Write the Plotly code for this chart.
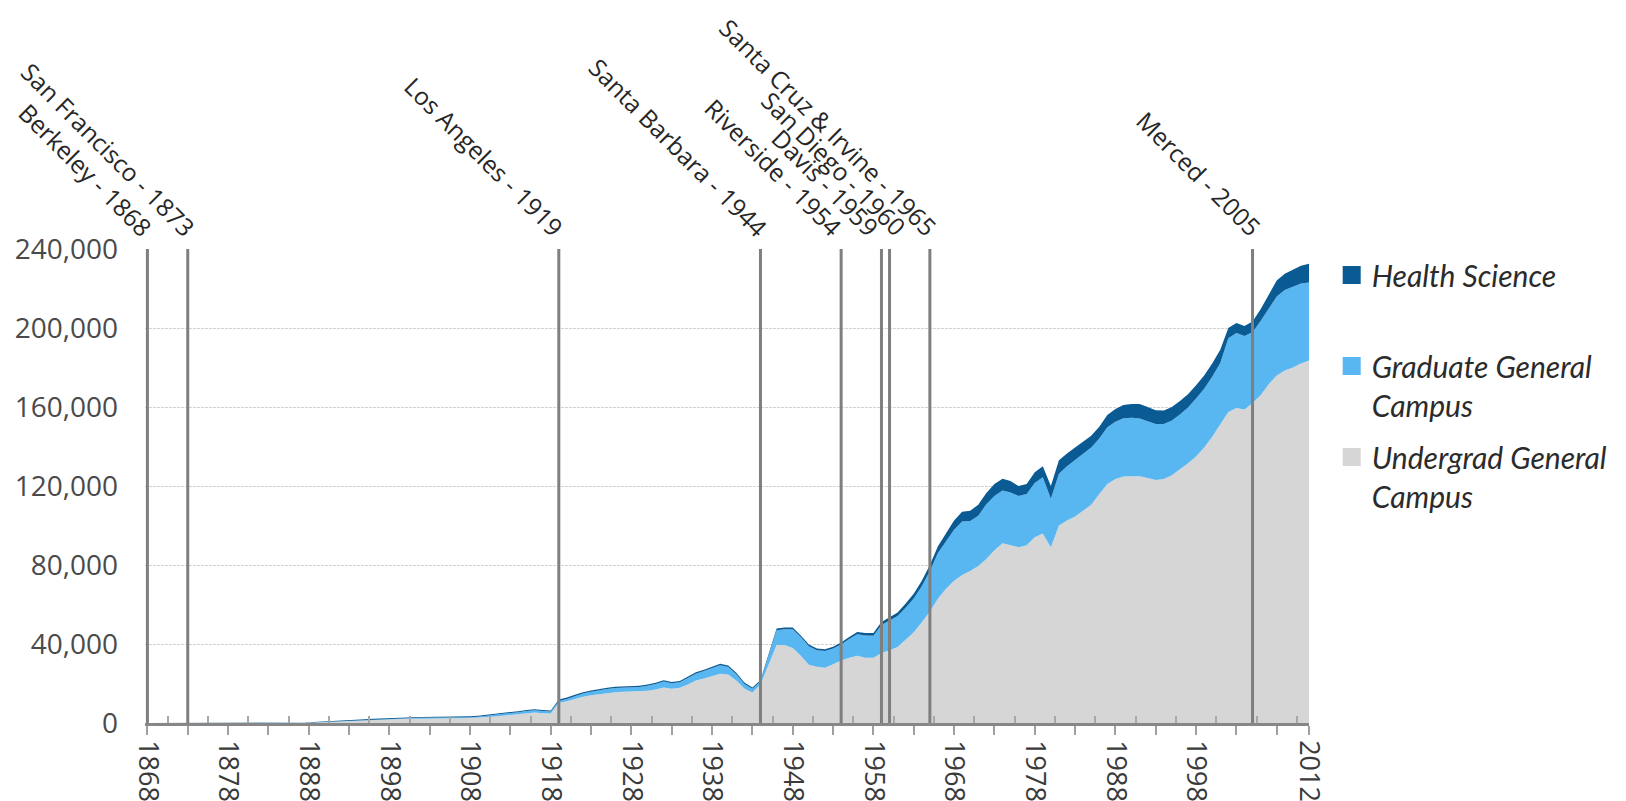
import plotly.graph_objects as go

# ---------------- data (enrollment, thousands of students) ----------------
years = list(range(1868, 2013))

undergrad_k = [
    0, 0, 0, 0, 0, 0, 0, 0, 0, 0, 0, 0, 0, 0, 0, 0, 0,            # 1868-1884
    0, 0.05, 0.1, 0.2, 0.3, 0.4, 0.6, 0.8, 1.0, 1.2,              # 1885-1894
    1.4, 1.6, 1.8, 1.9, 2.0, 2.1, 2.2, 2.3, 2.3, 2.4,             # 1895-1904
    2.4, 2.4, 2.4, 2.5, 2.7, 3.0, 3.3, 3.7, 4.1, 4.5,             # 1905-1914
    5.0, 5.3, 5.0, 4.8, 10.2, 11.0, 12.2, 13.3, 14.0, 14.6,       # 1915-1924
    15.2, 15.6, 15.8, 16.0, 16.0, 16.3, 17.0, 18.0, 17.3, 17.8,   # 1925-1934
    19.5, 21.5, 22.5, 23.8, 25.0, 24.5, 21.5, 17.5, 15.5, 19.5,   # 1935-1944
    30.0, 39.5, 39.5, 38.0, 34.0, 29.5, 28.5, 28.0, 29.8, 31.7,   # 1945-1954
    33.0, 34.0, 33.0, 33.0, 35.5, 36.8, 38.5, 42.0, 46.0, 51.0,   # 1955-1964
    56.5, 63.0, 68.0, 72.0, 75.0, 77.0, 79.5, 83.0, 87.5, 91.0,   # 1965-1974
    90.0, 89.0, 90.0, 94.0, 96.0, 89.0, 100.0, 102.5, 104.5, 107.5,  # 1975-1984
    110.5, 116.0, 121.0, 123.5, 124.8, 125.0, 125.0, 124.0, 123.0, 123.5,  # 1985-1994
    125.5, 128.5, 131.5, 135.0, 139.5, 145.0, 151.0, 157.5, 159.5, 158.7,  # 1995-2004
    162.0, 166.0, 171.5, 176.0, 178.5, 180.0, 182.0, 183.5,       # 2005-2012
]

graduate_k = [
    0, 0, 0, 0, 0, 0, 0, 0, 0, 0, 0, 0, 0, 0, 0, 0, 0,            # 1868-1884
    0, 0.02, 0.04, 0.05, 0.06, 0.07, 0.08, 0.1, 0.12, 0.15,       # 1885-1894
    0.17, 0.2, 0.22, 0.25, 0.27, 0.3, 0.3, 0.32, 0.33, 0.35,      # 1895-1904
    0.37, 0.4, 0.42, 0.45, 0.5, 0.6, 0.7, 0.8, 0.9, 1.0,          # 1905-1914
    1.1, 1.2, 1.1, 1.0, 1.0, 1.2, 1.4, 1.6, 1.8, 2.0,             # 1915-1924
    2.0, 2.1, 2.1, 2.2, 2.2, 2.5, 2.7, 3.0, 2.8, 2.8,             # 1925-1934
    3.2, 3.5, 3.8, 4.2, 4.3, 3.9, 3.2, 2.3, 1.8, 1.5,             # 1935-1944
    4.5, 7.5, 8.0, 9.5, 9.5, 9.4, 8.3, 8.5, 7.9, 8.1,             # 1945-1954
    9.5, 10.9, 11.3, 11.2, 14.1, 15.2, 15.7, 16.4, 17.1, 18.3,    # 1955-1964
    20.5, 23.1, 24.0, 25.9, 27.0, 25.3, 25.5, 27.7, 27.5, 26.7,   # 1965-1974
    26.7, 26.0, 26.0, 27.5, 28.4, 24.5, 26.2, 27.5, 28.7, 28.8,   # 1975-1984
    29.0, 28.0, 28.7, 29.0, 29.5, 29.5, 29.2, 28.8, 28.4, 27.9,   # 1985-1994
    27.7, 27.7, 28.2, 29.3, 29.8, 30.3, 31.3, 37.3, 38.0, 37.3,   # 1995-2004
    35.8, 37.5, 38.5, 40.0, 40.7, 40.9, 40.5, 39.5,               # 2005-2012
]

health_k = [
    0, 0, 0, 0, 0, 0, 0, 0, 0, 0, 0, 0, 0, 0, 0, 0, 0,            # 1868-1884
    0, 0.05, 0.1, 0.15, 0.2, 0.25, 0.3, 0.3, 0.3, 0.3,            # 1885-1894
    0.3, 0.3, 0.3, 0.3, 0.3, 0.4, 0.4, 0.4, 0.4, 0.4,             # 1895-1904
    0.5, 0.5, 0.5, 0.5, 0.5, 0.5, 0.5, 0.5, 0.5, 0.5,             # 1905-1914
    0.5, 0.5, 0.5, 0.5, 0.7, 0.7, 0.7, 0.7, 0.7, 0.7,             # 1915-1924
    0.7, 0.7, 0.7, 0.7, 0.7, 0.7, 0.7, 0.7, 0.7, 0.7,             # 1925-1934
    0.7, 0.7, 0.7, 0.7, 0.7, 0.7, 0.7, 0.7, 0.7, 0.7,             # 1935-1944
    0.8, 0.8, 0.8, 0.8, 0.8, 0.8, 0.9, 0.9, 0.9, 1.0,             # 1945-1954
    1.1, 1.2, 1.3, 1.4, 1.5, 1.6, 1.8, 2.1, 2.4, 2.7,             # 1955-1964
    3.0, 3.4, 4.0, 4.6, 5.0, 5.2, 5.5, 5.8, 6.0, 6.0,             # 1965-1974
    5.8, 5.0, 5.0, 5.5, 5.6, 6.5, 6.8, 6.5, 6.3, 6.2,             # 1975-1984
    6.0, 6.0, 6.3, 6.5, 6.7, 7.0, 7.3, 7.2, 6.9, 6.8,             # 1985-1994
    6.8, 6.8, 6.8, 6.7, 6.7, 6.7, 6.7, 5.2, 5.0, 5.0,             # 1995-2004
    5.5, 6.0, 7.0, 8.0, 8.3, 8.6, 9.0, 9.5,                       # 2005-2012
]

campus_years = [1868, 1873, 1919, 1944, 1954, 1959, 1960, 1965, 2005]
campus_labels = [
    "Berkeley - 1868", "San Francisco - 1873", "Los Angeles - 1919",
    "Santa Barbara - 1944", "Riverside - 1954", "Davis - 1959",
    "San Diego - 1960", "Santa Cruz & Irvine - 1965", "Merced - 2005",
]
# fine horizontal nudges (pixels) of each rotated label relative to its line
label_nudge_px = [0, 3, 0, 3, -3, -7, 12, 3, 4]

series_names = ["Undergrad General<br>Campus", "Graduate General<br>Campus", "Health Science<br>&nbsp;"]
series_colors = ["#D6D6D6", "#58B6F1", "#0A5A93"]

y_tick_vals = [0, 40000, 80000, 120000, 160000, 200000, 240000]
x_tick_years = [1868, 1873, 1878, 1883, 1888, 1893, 1898, 1903, 1908, 1913, 1918, 1923,
                1928, 1933, 1938, 1943, 1948, 1953, 1958, 1963, 1968, 1973, 1978, 1983,
                1988, 1993, 1998, 2003, 2008, 2012]
x_label_years = [1868, 1878, 1888, 1898, 1908, 1918, 1928, 1938, 1948, 1958, 1968,
                 1978, 1988, 1998, 2012]
x_minor_years = [1870.5, 1875.5, 1880.5, 1885.5, 1890.5, 1895.5, 1900.5, 1905.5, 1910.5,
                 1915.5, 1920.5, 1925.5, 1930.5, 1935.5, 1940.5, 1945.5, 1950.5, 1955.5,
                 1960.5, 1965.5, 1970.5, 1975.5, 1980.5, 1985.5, 1990.5, 1995.5, 2000.5,
                 2005.5, 2010.5]

# ---------------- figure ----------------
FONT = "Open Sans, Noto Sans, sans-serif"
fig = go.Figure()

series = [undergrad_k, graduate_k, health_k]
for vals, name, color in zip(series, series_names, series_colors):
    fig.add_trace(go.Scatter(
        x=years, y=[v * 1000 for v in vals],
        stackgroup="enroll", mode="lines",
        line=dict(width=0, color=color),
        fillcolor=color, name=name, showlegend=False, hoverinfo="x+y+name",
    ))

# legend entries (square swatches)
for rank, idx in enumerate([2, 1, 0]):
    fig.add_trace(go.Scatter(
        x=[None], y=[None], mode="markers",
        marker=dict(symbol="square", size=16, color=series_colors[idx],
                    line=dict(width=2, color=series_colors[idx])),
        name=series_names[idx], legendgroup="g%d" % idx, legendrank=rank + 1,
        showlegend=True,
    ))

# campus opening lines and labels
for yr, label, dx in zip(campus_years, campus_labels, label_nudge_px):
    fig.add_shape(type="line", xref="x", yref="paper", x0=yr, x1=yr, y0=0, y1=1,
                  line=dict(color="#7F7F7F", width=3), layer="above")
    fig.add_annotation(x=yr, y=1, xref="x", yref="paper", text=label, showarrow=False,
                       textangle=45, xanchor="right", yanchor="bottom",
                       xshift=14 + dx, yshift=3,
                       font=dict(family=FONT, size=24.5, color="#262626"))

fig.update_layout(
    width=1626, height=801,
    margin=dict(l=145, r=317, t=249, b=78),
    paper_bgcolor="white", plot_bgcolor="white",
    showlegend=True,
    legend=dict(
        xref="container", yref="container", x=0.819, y=1 - 249 / 801,
        xanchor="left", yanchor="top",
        font=dict(family="Lato, Open Sans, sans-serif", size=30, color="#2B2B2B", style="italic"),
        valign="top", tracegroupgap=10, traceorder="grouped",
        bgcolor="rgba(0,0,0,0)", itemsizing="trace",
    ),
    xaxis=dict(
        range=[1867.7, 2012], showgrid=False, zeroline=False, automargin=False,
        showline=True, linecolor="#878787", linewidth=2.5,
        tickmode="array", tickvals=x_tick_years,
        ticktext=[str(y) if y in x_label_years else "" for y in x_tick_years],
        ticks="outside", ticklen=9, tickwidth=1.5, tickcolor="#A0A0A0",
        tickangle=90,
        tickfont=dict(family=FONT, size=27, color="#3A3A3A"),
        minor=dict(tickmode="array", tickvals=x_minor_years, ticks="inside",
                   ticklen=7, tickwidth=1.5, tickcolor="#A8A8A8"),
    ),
    yaxis=dict(
        range=[0, 240000], tickmode="array", tickvals=y_tick_vals, automargin=False,
        tickformat=",d", showgrid=True, gridcolor="#D2D2D2", gridwidth=1, griddash="3px,1px",
        zeroline=False, showline=False, ticks="",
        ticklabelstandoff=26,
        tickfont=dict(family=FONT, size=28, color="#4A4A4A"),
    ),
)

fig.write_html("out.html", config={"displayModeBar": False},
               post_script="document.body.style.margin='0';")
